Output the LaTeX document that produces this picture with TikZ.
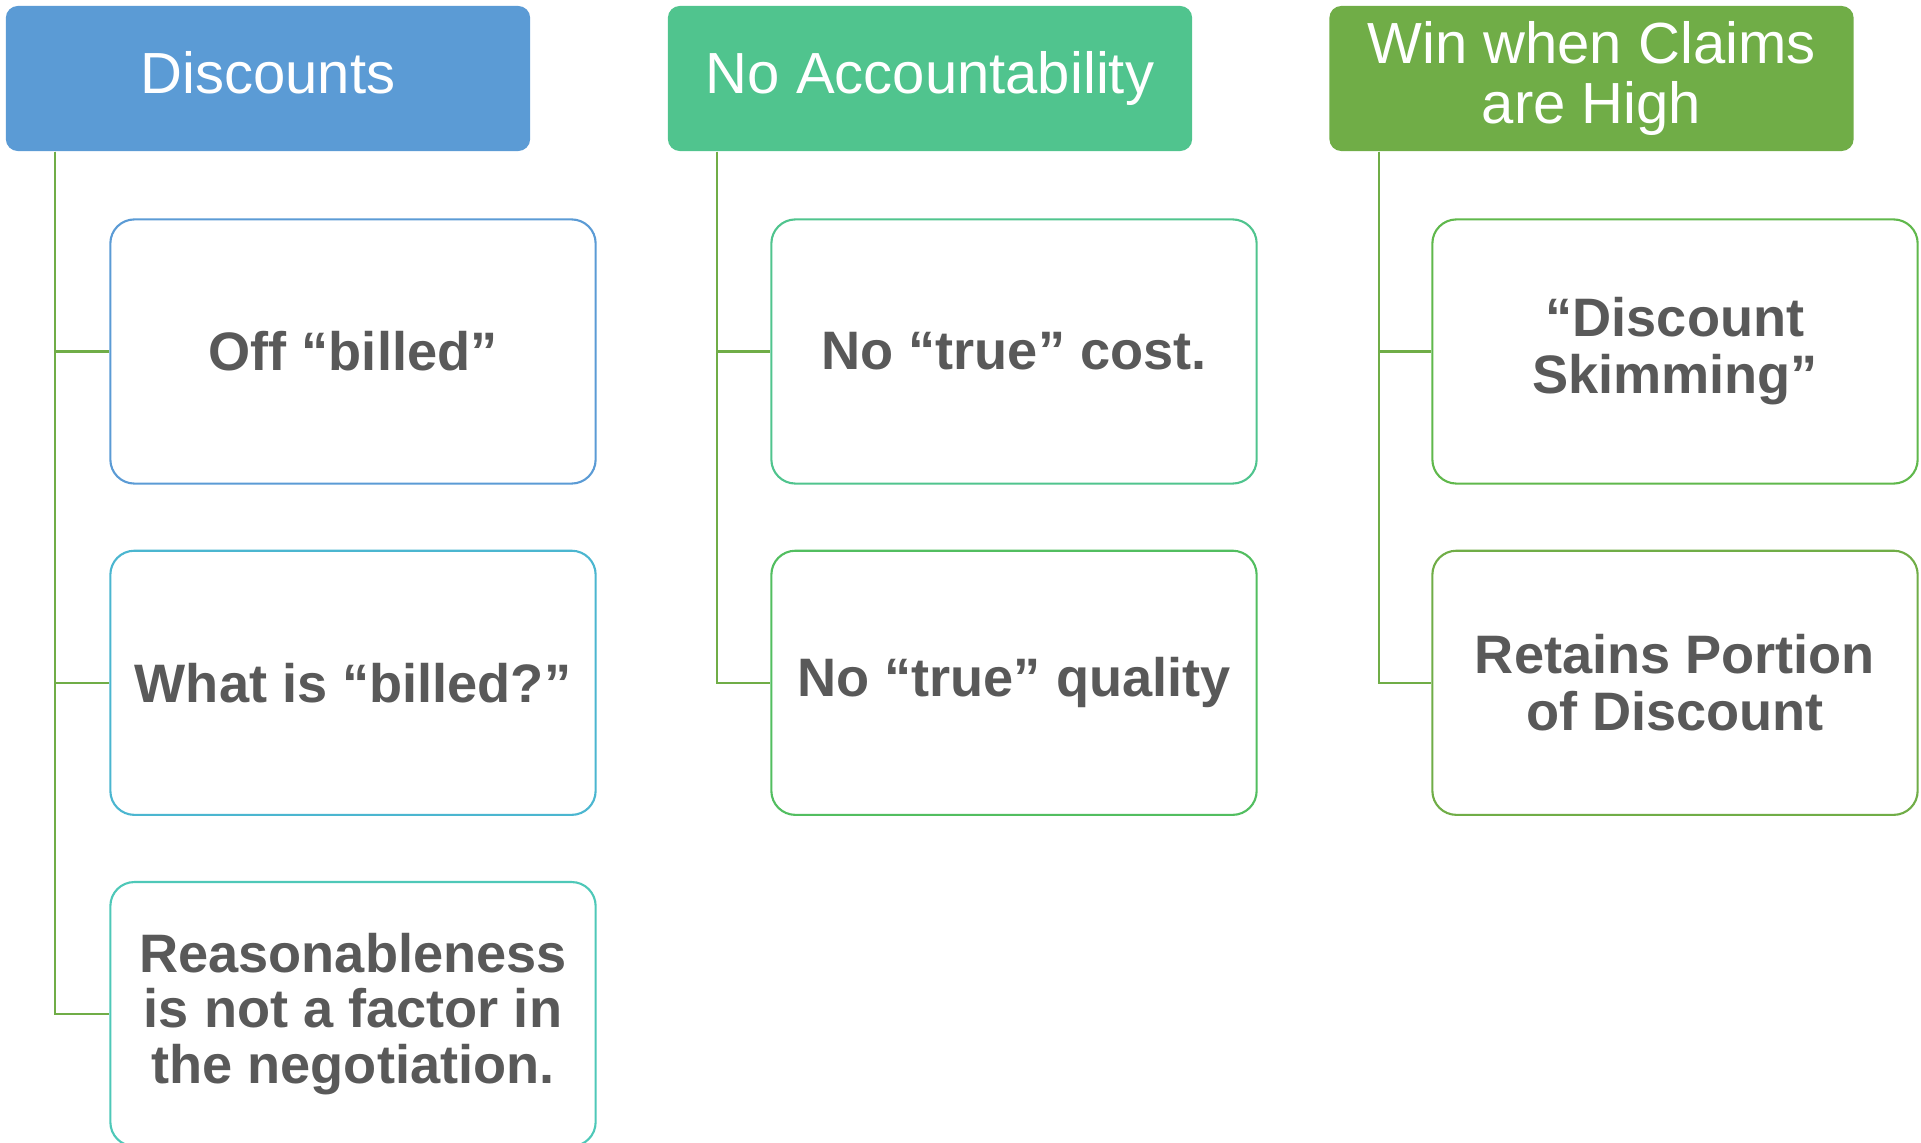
\documentclass[tikz,border=0pt]{standalone}
\usepackage{fontspec}
\setmainfont{Liberation Sans}
\usetikzlibrary{positioning}
\definecolor{discblue}{RGB}{91,155,213}
\definecolor{accgreen}{RGB}{80,196,142}
\definecolor{wingreen}{RGB}{112,173,71}
\definecolor{textgray}{RGB}{89,89,89}
\definecolor{cyanedge}{RGB}{75,182,208}
\definecolor{tealedge}{RGB}{78,200,184}
\definecolor{grassedge}{RGB}{82,190,96}
\definecolor{leafedge}{RGB}{96,184,76}

\begin{document}
\begin{tikzpicture}[x=0.01cm, y=-0.01cm,
    headbox/.style={rounded corners=0.12cm, minimum width=5.24cm, minimum height=1.45cm,
                text=white, align=center, inner sep=0pt, font=\fontsize{16.5}{17.1}\selectfont},
    itembox/.style={draw, line width=0.6pt, rounded corners=0.24cm, fill=white,
                minimum width=4.85cm, minimum height=2.64cm, text=textgray, align=center,
                inner sep=0pt, font=\bfseries\fontsize{15.4}{16.2}\selectfont},
    link/.style={draw=wingreen, line width=0.6pt}
]
    \useasboundingbox (0,0) rectangle (1921,1143);

    % headers
    \node[headbox, fill=discblue] (dh) at (268,78.5) {Discounts\vphantom{y}};
    \node[headbox, fill=accgreen] (nh) at (930,78.5) {No Accountability};
    \node[headbox, fill=wingreen] (wh) at (1591.5,78.5) {Win when Claims\\are High};

    \coordinate (d1c) at (353,351.5);
    \coordinate (n1c) at (1014,351.5);
    \coordinate (w1c) at (1675,351.5);

    % Discounts column
    \node[itembox, draw=discblue] (d1) at (d1c) {Off “billed”};
    \node[itembox, draw=cyanedge, below=0.65cm of d1] (d2) {What is “billed?”};
    \node[itembox, draw=tealedge, below=0.65cm of d2, font=\bfseries\fontsize{15.4}{15.9}\selectfont]
        (d3) {Reasonableness\\is not a factor in\\the negotiation.};

    % No Accountability column
    \node[itembox, draw=accgreen] (n1) at (n1c) {No “true” cost.};
    \node[itembox, draw=grassedge, below=0.65cm of n1] (n2) {No “true” quality};

    % Win column
    \node[itembox, draw=leafedge] (w1) at (w1c) {“Discount\\Skimming”};
    \node[itembox, draw=wingreen, below=0.65cm of w1] (w2) {Retains Portion\\of Discount};

    % tree lines
    \draw[link] ([xshift=0.5cm]dh.south west) |- (d1.west);
    \draw[link] ([xshift=0.5cm]dh.south west) |- (d2.west);
    \draw[link] ([xshift=0.5cm]dh.south west) |- (d3.west);
    \draw[link] ([xshift=0.5cm]nh.south west) |- (n1.west);
    \draw[link] ([xshift=0.5cm]nh.south west) |- (n2.west);
    \draw[link] ([xshift=0.5cm]wh.south west) |- (w1.west);
    \draw[link] ([xshift=0.5cm]wh.south west) |- (w2.west);
\end{tikzpicture}
\end{document}
